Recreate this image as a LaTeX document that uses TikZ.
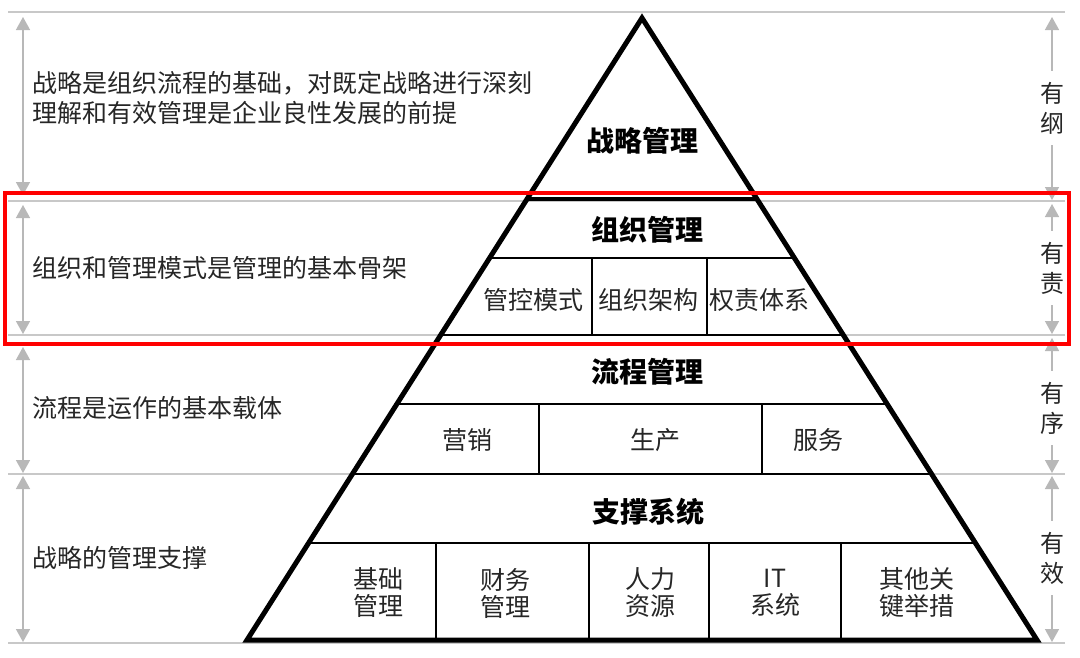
\documentclass[tikz,border=0pt]{standalone}
\usepackage{fontspec}
\setmainfont{Noto Sans CJK SC}
\usetikzlibrary{arrows.meta}
\definecolor{guide}{HTML}{C8C8C8}
\definecolor{arr}{HTML}{B8B8B8}
\definecolor{txt}{HTML}{262626}
\tikzset{
 guideline/.style={draw=guide, line width=1.5pt},
 dimarrow/.style={draw=arr, line width=1.5pt, {Triangle[width=14pt,length=13pt]}-{Triangle[width=14pt,length=13pt]}},
 desc/.style={anchor=west, align=left, text=txt, font=\fontsize{25}{30}\selectfont, inner sep=0pt},
 sidelabel/.style={fill=white, align=center, text=txt, font=\fontsize{24}{30}\selectfont, inner xsep=2pt, inner ysep=11pt},
 heading/.style={font=\fontsize{28}{30}\selectfont\bfseries, text=black},
 cell/.style={font=\fontsize{25}{27}\selectfont, text=txt, align=center},
 outer/.style={draw=black, line width=5pt, line join=miter},
 thick line/.style={draw=black, line width=4pt},
 thin line/.style={draw=black, line width=2pt},
 highlight/.style={draw=red, line width=4pt},
}
\begin{document}
\begin{tikzpicture}[x=1pt, y=-1pt]
\useasboundingbox (0,0) rectangle (1080,657);
% guide lines
\coordinate (g0l) at (8,12);   \coordinate (g0r) at (1065,12);
\coordinate (g1l) at (8,201);  \coordinate (g1r) at (1065,201);
\coordinate (g2l) at (8,335);  \coordinate (g2r) at (1065,335);
\coordinate (g3l) at (8,474);  \coordinate (g3r) at (1065,474);
\coordinate (g4l) at (8,643);  \coordinate (g4r) at (1065,643);
\foreach \i in {0,...,4} { \draw[guideline] (g\i l) -- (g\i r); }

% left arrows
\coordinate (la0) at (23,17);  \coordinate (la1) at (23,195);
\coordinate (la2) at (23,205); \coordinate (la3) at (23,334);
\coordinate (la4) at (23,347); \coordinate (la5) at (23,473);
\coordinate (la6) at (23,476); \coordinate (la7) at (23,642);
\draw[dimarrow] (la0) -- (la1);
\draw[dimarrow] (la2) -- (la3);
\draw[dimarrow] (la4) -- (la5);
\draw[dimarrow] (la6) -- (la7);

% right arrows
\coordinate (ra0) at (1052,17);  \coordinate (ra1) at (1052,200);
\coordinate (ra2) at (1052,204); \coordinate (ra3) at (1052,334);
\coordinate (ra4) at (1052,338); \coordinate (ra5) at (1052,473);
\coordinate (ra6) at (1052,476); \coordinate (ra7) at (1052,642);
\draw[dimarrow] (ra0) -- (ra1);
\draw[dimarrow] (ra2) -- (ra3);
\draw[dimarrow] (ra4) -- (ra5);
\draw[dimarrow] (ra6) -- (ra7);
\node[sidelabel] (r1) at (1052,108) {有\\纲};
\node[sidelabel] (r2) at (1052,268) {有\\责};
\node[sidelabel] (r3) at (1052,408) {有\\序};
\node[sidelabel] (r4) at (1052,558) {有\\效};

% left descriptions
\node[desc] (d1) at (32,98) {战略是组织流程的基础，对既定战略进行深刻\\理解和有效管理是企业良性发展的前提};
\node[desc] (d2) at (32,268) {组织和管理模式是管理的基本骨架};
\node[desc] (d3) at (32,408) {流程是运作的基本载体};
\node[desc] (d4) at (32,558) {战略的管理支撑};

% pyramid
\coordinate (apex) at (642,18);
\coordinate (bl) at (247,640);
\coordinate (br) at (1037,640);
\draw[thick line] (527,199) -- (757,199);
\draw[thin line] (490,258) -- (794,258);
\draw[thin line] (441,335) -- (843,335);
\draw[thin line] (397,404) -- (887,404);
\draw[thin line] (352,474) -- (932,474);
\draw[thin line] (309,543) -- (975,543);
\draw[thin line] (592,258) -- (592,335);
\draw[thin line] (707,258) -- (707,335);
\draw[thin line] (539,404) -- (539,474);
\draw[thin line] (762,404) -- (762,474);
\draw[thin line] (436,543) -- (436,640);
\draw[thin line] (589,543) -- (589,640);
\draw[thin line] (709,543) -- (709,640);
\draw[thin line] (841,543) -- (841,640);
\draw[outer] (apex) -- (bl) -- (br) -- cycle;

% pyramid texts
\node[heading] (strat) at (642,141) {战略管理};
\node[heading] (org) at (647,230) {组织管理};
\node[cell] (c11) at (533,300) {管控模式};
\node[cell] (c12) at (648,300) {组织架构};
\node[cell] (c13) at (759,300) {权责体系};
\node[heading] (proc) at (647,372) {流程管理};
\node[cell] (c21) at (467,440) {营销};
\node[cell] (c22) at (655,440) {生产};
\node[cell] (c23) at (818,440) {服务};
\node[heading] (sup) at (648,512) {支撑系统};
\node[cell] (c31) at (378,593) {基础\\管理};
\node[cell] (c32) at (505,593) {财务\\管理};
\node[cell] (c33) at (650,593) {人力\\资源};
\node[cell] (c34) at (775,593) {IT\\系统};
\node[cell] (c35) at (917,593) {其他关\\键举措};

% highlight
\draw[highlight] (5,193) rectangle (1069,344);
\end{tikzpicture}
\end{document}
